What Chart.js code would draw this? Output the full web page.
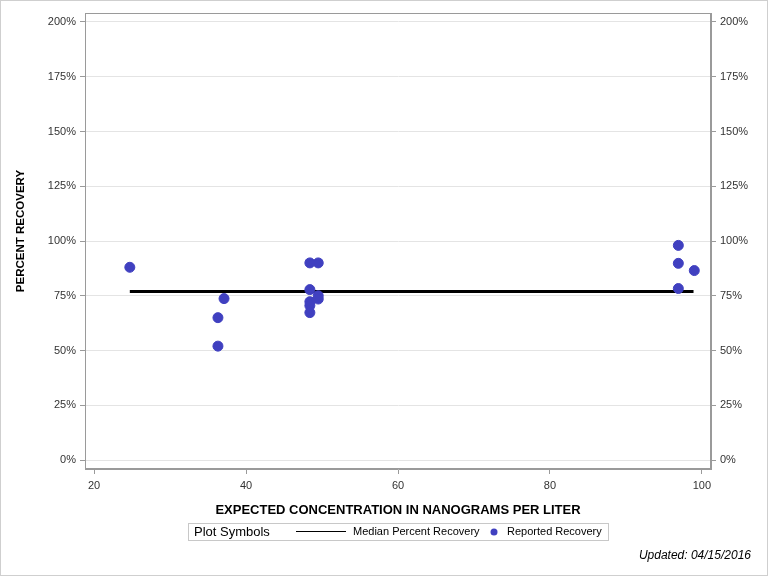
<!DOCTYPE html>
<html>
<head>
<meta charset="utf-8">
<script src="https://cdn.jsdelivr.net/npm/chart.js@4"></script>
<style>
html, body { margin: 0; padding: 0; background: #fff; }
#wrap { width: 768px; height: 576px; }
</style>
</head>
<body>
<div id="wrap"><canvas id="chart" width="768" height="576"></canvas></div>
<script>
// Reported recovery points (expected concentration, ng/L -> percent)
const concentration = [24.7, 36.3, 36.3, 37.1, 48.4, 48.4, 48.4, 48.4, 48.4, 49.5, 49.5, 49.5, 96.9, 96.9, 96.9, 99.0];
const recovery = [88, 65, 52, 73.7, 90, 77.8, 72.3, 70.5, 67.3, 90, 75, 73.5, 98, 89.8, 78.3, 86.5];

// Median line spans the range of concentrations
const medianRange = [24.7, 98.9];
const medianRecovery = 76.9;

const xTicks = [20, 40, 60, 80, 100];
const yTicks = [0, 25, 50, 75, 100, 125, 150, 175, 200];

const FONT = "'Liberation Sans', Arial, sans-serif";
const POINT_COLOR = '#4040c0';
const Y_TITLE = 'PERCENT RECOVERY';

/**
 * Frame around plot area, outer border, y title, legend box and footer text
 */
const decorPlugin = {
    id: 'decor',
    afterDraw(chart) {
        const ctx = chart.ctx;
        const a = chart.chartArea;
        ctx.save();

        // plot frame
        ctx.strokeStyle = '#9a9a9a';
        ctx.lineWidth = 1;
        ctx.strokeRect(Math.round(a.left) + 0.5, Math.round(a.top) + 0.5,
            Math.round(a.right - a.left) - 1, Math.round(a.bottom - a.top) - 1);

        // outer border
        ctx.strokeStyle = '#cfcfcf';
        ctx.strokeRect(0.5, 0.5, chart.width - 1, chart.height - 1);

        // y axis title (sits a little above the plot centre in the original)
        ctx.save();
        ctx.translate(21, 231);
        ctx.rotate(-Math.PI / 2);
        ctx.font = 'bold 11.5px ' + FONT;
        ctx.fillStyle = '#000';
        ctx.textAlign = 'center';
        ctx.textBaseline = 'middle';
        ctx.fillText(Y_TITLE, 0, 0);
        ctx.restore();

        // legend
        const ds = chart.data.datasets;
        ctx.strokeStyle = '#c8c8c8';
        ctx.strokeRect(188.5, 523.5, 420, 17);
        ctx.fillStyle = '#000';
        ctx.textBaseline = 'middle';
        ctx.textAlign = 'left';
        ctx.font = '13px ' + FONT;
        ctx.fillText('Plot Symbols', 194, 532.5);

        ctx.strokeStyle = '#000';
        ctx.beginPath();
        ctx.moveTo(296, 531.5);
        ctx.lineTo(346, 531.5);
        ctx.stroke();
        ctx.font = '11px ' + FONT;
        ctx.fillText(ds[0].label, 353, 532);

        ctx.fillStyle = POINT_COLOR;
        ctx.beginPath();
        ctx.arc(494, 532, 3.5, 0, Math.PI * 2);
        ctx.fill();
        ctx.fillStyle = '#000';
        ctx.fillText(ds[1].label, 507, 532);

        // footer
        ctx.font = 'italic 12px ' + FONT;
        ctx.textAlign = 'right';
        ctx.fillText('Updated: 04/15/2016', 751, 556);

        ctx.restore();
    }
};

function setTicks(list) {
    return function(scale) {
        scale.ticks = list.map(v => ({ value: v }));
    };
}

const tickFont = { family: FONT, size: 11 };

new Chart(document.getElementById('chart'), {
    type: 'scatter',
    data: {
        datasets: [
            {
                label: 'Median Percent Recovery',
                type: 'line',
                data: medianRange.map(x => ({ x: x, y: medianRecovery })),
                borderColor: '#000',
                borderWidth: 3,
                pointRadius: 0,
                fill: false,
                order: 2
            },
            {
                label: 'Reported Recovery',
                data: concentration.map((x, i) => ({ x: x, y: recovery[i] })),
                backgroundColor: POINT_COLOR,
                borderColor: POINT_COLOR,
                pointRadius: 5,
                order: 1
            }
        ]
    },
    options: {
        responsive: false,
        animation: false,
        layout: { padding: { top: 13, left: 0, right: 0, bottom: 57 } },
        plugins: {
            legend: { display: false },
            tooltip: { enabled: false }
        },
        scales: {
            x: {
                type: 'linear',
                min: 18.8,
                max: 101.2,
                afterBuildTicks: setTicks(xTicks),
                afterFit(scale) { scale.height = 50; },
                grid: { drawOnChartArea: false, tickColor: '#9a9a9a', tickLength: 5 },
                border: { color: '#9a9a9a' },
                ticks: { font: tickFont, color: '#333', padding: 5, maxRotation: 0 },
                title: {
                    display: true,
                    text: 'EXPECTED CONCENTRATION IN NANOGRAMS PER LITER',
                    font: { family: "'Liberation Sans Narrow', 'Arial Narrow', " + FONT, size: 13, weight: 'bold' },
                    color: '#000',
                    padding: { top: 4, bottom: 1 }
                }
            },
            y: {
                position: 'left',
                min: -4.1,
                max: 204.1,
                afterBuildTicks: setTicks(yTicks),
                afterFit(scale) { scale.width = 85; },
                grid: { color: '#e4e4e4', tickColor: '#9a9a9a', tickLength: 5 },
                border: { color: '#9a9a9a' },
                ticks: { font: tickFont, color: '#333', padding: 4, callback: v => v + '%' }
            },
            y2: {
                position: 'right',
                min: -4.1,
                max: 204.1,
                afterBuildTicks: setTicks(yTicks),
                afterFit(scale) { scale.width = 57; },
                grid: { drawOnChartArea: false, tickColor: '#9a9a9a', tickLength: 5 },
                border: { color: '#9a9a9a' },
                ticks: { font: tickFont, color: '#333', padding: 4, callback: v => v + '%' }
            }
        }
    },
    plugins: [decorPlugin]
});
</script>
</body>
</html>
